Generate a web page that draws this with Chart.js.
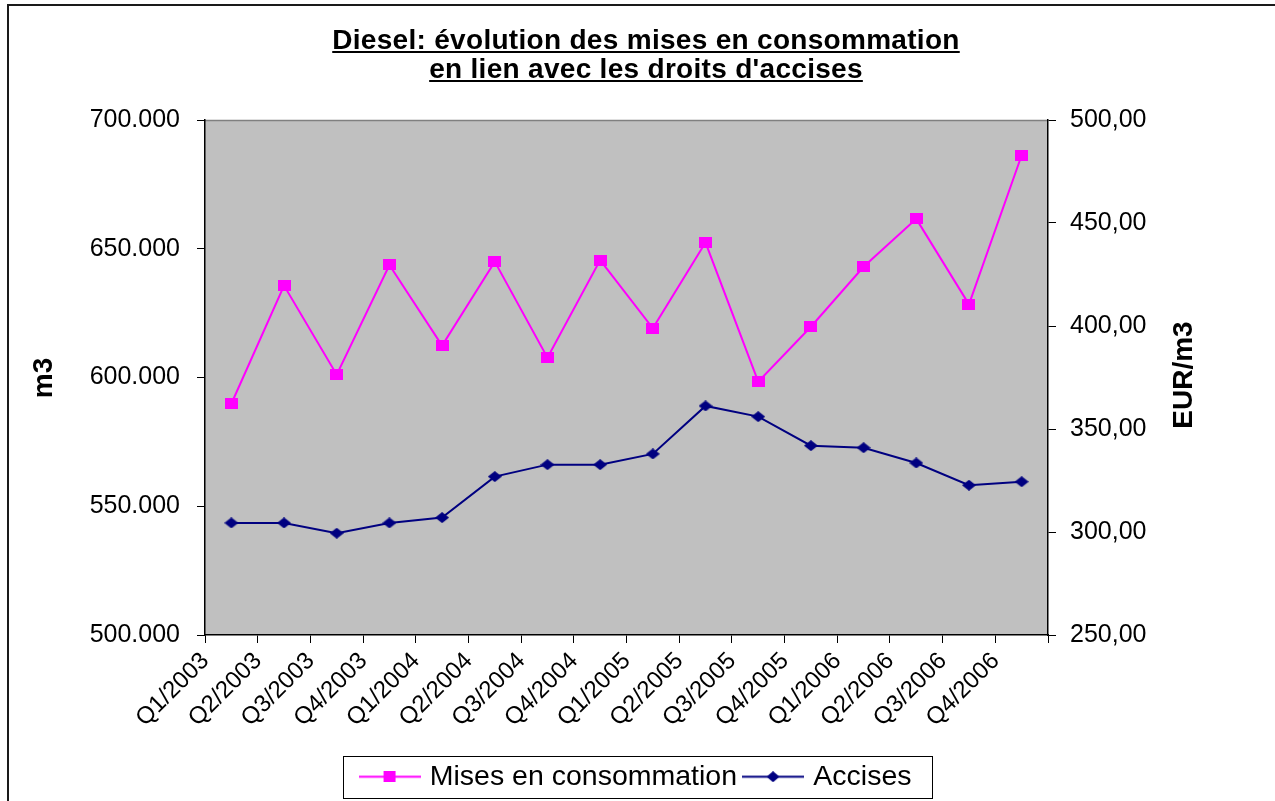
<!DOCTYPE html>
<html>
<head>
<meta charset="utf-8">
<script src="https://cdn.jsdelivr.net/npm/chart.js@4.4.1/dist/chart.umd.min.js"></script>
<style>
  html, body { margin: 0; padding: 0; background: #fff; overflow: hidden; }
  #wrap { position: relative; width: 1275px; height: 801px; }
  #frame { position: absolute; left: 7px; top: 4px; width: 1300px; height: 900px;
           border-left: 2px solid #1a1a1a; border-top: 2px solid #1a1a1a; pointer-events: none; }
  #title { position: absolute; left: 0; width: 1292px; top: 25px; text-align: center;
           font: bold 28px "Liberation Sans", Arial, sans-serif; line-height: 29px; letter-spacing: 0.3px;
           text-decoration: underline; color: #000; }
  .axt { position: absolute; transform: translate(-50%, -50%) rotate(-90deg);
         font: bold 28px "Liberation Sans", Arial, sans-serif; white-space: nowrap; color: #000; }
</style>
</head>
<body>
<div id="wrap">
  <canvas id="dieselChart"></canvas>
  <div id="frame"></div>
  <div id="title">Diesel: évolution des mises en consommation<br>en lien avec les droits d'accises</div>
  <div class="axt" style="left:43px; top:378px;">m3</div>
  <div class="axt" style="left:1183px; top:375px;">EUR/m3</div>
</div>
<script>
// === Data ===
const categories = ["Q1/2003", "Q2/2003", "Q3/2003", "Q4/2003", "Q1/2004", "Q2/2004", "Q3/2004", "Q4/2004",
                    "Q1/2005", "Q2/2005", "Q3/2005", "Q4/2005", "Q1/2006", "Q2/2006", "Q3/2006", "Q4/2006"];
const misesValues = [589800, 635700, 601100, 643700, 612400, 645000, 607700, 645600,
                     619100, 652400, 598400, 619700, 643000, 661600, 628400, 686300];
const accisesValues = [304.4, 304.4, 299.4, 304.4, 307.0, 326.9, 332.7, 332.7,
                       337.9, 361.2, 356.0, 341.9, 340.9, 333.5, 322.7, 324.4];
const leftTicks = [500000, 550000, 600000, 650000, 700000];
const rightTicks = [250, 300, 350, 400, 450, 500];

const FONT = "'Liberation Sans', Arial, sans-serif";
const PINK = "#FF00FF";
const NAVY = "#000080";

// petits marqueurs (carré / losange) dessinés sur un canvas
function marker(w, h, color, shape, lineLen) {
  const c = document.createElement("canvas");
  const cw = lineLen || w;
  c.width = cw; c.height = h;
  const g = c.getContext("2d");
  const cx = cw / 2, cy = h / 2;
  if (lineLen) {
    g.strokeStyle = color; g.lineWidth = 2;
    g.beginPath(); g.moveTo(0, cy); g.lineTo(cw, cy); g.stroke();
  }
  g.fillStyle = color;
  if (shape === "square") {
    g.fillRect(cx - w / 2, cy - h / 2, w, h);
  } else {
    g.beginPath();
    g.moveTo(cx - w / 2, cy); g.lineTo(cx, cy - h / 2);
    g.lineTo(cx + w / 2, cy); g.lineTo(cx, cy + h / 2);
    g.closePath(); g.fill();
  }
  return c;
}
const squarePt = marker(13, 11, PINK, "square");
const diamondPt = marker(14, 11, NAVY, "diamond");
const legendImgs = [marker(12, 11, PINK, "square", 62), marker(13, 11, NAVY, "diamond", 62)];

const fmtLeft = v => String(v).replace(/\B(?=(\d{3})+(?!\d))/g, ".");
const fmtRight = v => Number(v).toFixed(2).replace(".", ",");

// fond gris de la zone de tracé
const plotBg = {
  id: "plotBg",
  beforeDraw(chart) {
    const { ctx, chartArea: a } = chart;
    ctx.save();
    ctx.fillStyle = "#C0C0C0";
    ctx.fillRect(a.left, a.top, a.width, a.height);
    ctx.strokeStyle = "#808080";
    ctx.lineWidth = 1.5;
    ctx.beginPath(); ctx.moveTo(a.left, a.top + 0.5); ctx.lineTo(a.right, a.top + 0.5); ctx.stroke();
    ctx.restore();
  }
};

// cadre autour de la légende
const legendBox = {
  id: "legendBox",
  afterDraw(chart) {
    const hb = chart.legend && chart.legend.legendHitBoxes;
    if (!hb || !hb.length) return;
    const last = hb[hb.length - 1];
    const l = hb[0].left - 21, r = last.left + last.width + 20;
    const t = hb[0].top - 7, b = hb[0].top + hb[0].height + 6;
    const ctx = chart.ctx;
    ctx.save();
    ctx.strokeStyle = "#000"; ctx.lineWidth = 1;
    ctx.strokeRect(Math.round(l) + 0.5, Math.round(t) + 0.5, Math.round(r - l), Math.round(b - t));
    ctx.restore();
  }
};

new Chart(document.getElementById("dieselChart"), {
  type: "line",
  data: {
    labels: categories,
    datasets: [{
      label: "Mises en consommation",
      data: misesValues,
      yAxisID: "y",
      borderColor: PINK,
      backgroundColor: PINK,
      borderWidth: 2,
      pointStyle: squarePt,
      pointRadius: 6,
      tension: 0
    }, {
      label: "Accises",
      data: accisesValues,
      yAxisID: "y1",
      borderColor: NAVY,
      backgroundColor: NAVY,
      borderWidth: 2,
      pointStyle: diamondPt,
      pointRadius: 6,
      tension: 0
    }]
  },
  options: {
    responsive: true,
    maintainAspectRatio: false,
    animation: false,
    layout: { padding: { top: 120, left: 0, right: 0, bottom: 0 } },
    plugins: {
      title: { display: false },
      tooltip: { enabled: false },
      legend: {
        position: "bottom",
        labels: {
          usePointStyle: true,
          pointStyleWidth: 52,
          color: "#000",
          padding: 10,
          font: { family: FONT, size: 28.5 },
          generateLabels: chart => chart.data.datasets.map((ds, i) => ({
            text: ds.label,
            pointStyle: legendImgs[i],
            fillStyle: ds.borderColor,
            strokeStyle: ds.borderColor,
            lineWidth: 0,
            hidden: false,
            datasetIndex: i,
            fontColor: "#000"
          }))
        }
      }
    },
    scales: {
      x: {
        offset: true,
        grid: { offset: true, drawOnChartArea: false, drawTicks: true, tickLength: 8, color: "#000" },
        border: { color: "#000", width: 1.5 },
        ticks: {
          autoSkip: false, maxRotation: 45, minRotation: 45,
          labelOffset: -26, padding: 4, color: "#000",
          font: { family: FONT, size: 24 }
        },
        afterFit: s => {
          const lh = s.chart.legend ? (s.chart.legend.height || 0) : 0;
          s.height = 801 - lh - 635;
        }
      },
      y: {
        position: "left",
        min: 500000, max: 700000,
        afterBuildTicks: s => { s.ticks = leftTicks.map(v => ({ value: v })); },
        grid: { drawOnChartArea: false, tickLength: 8, color: "#000" },
        border: { color: "#000", width: 1.5 },
        ticks: { padding: 17, color: "#000", font: { family: FONT, size: 25 }, callback: v => fmtLeft(v) },
        afterFit: s => { s.width = 205; }
      },
      y1: {
        position: "right",
        min: 250, max: 500,
        afterBuildTicks: s => { s.ticks = rightTicks.map(v => ({ value: v })); },
        grid: { drawOnChartArea: false, tickLength: 8, color: "#000" },
        border: { color: "#000", width: 1.5 },
        ticks: { padding: 14, color: "#000", font: { family: FONT, size: 25 }, callback: v => fmtRight(v) },
        afterFit: s => { s.width = 227; }
      }
    }
  },
  plugins: [plotBg, legendBox]
});
</script>
</body>
</html>
